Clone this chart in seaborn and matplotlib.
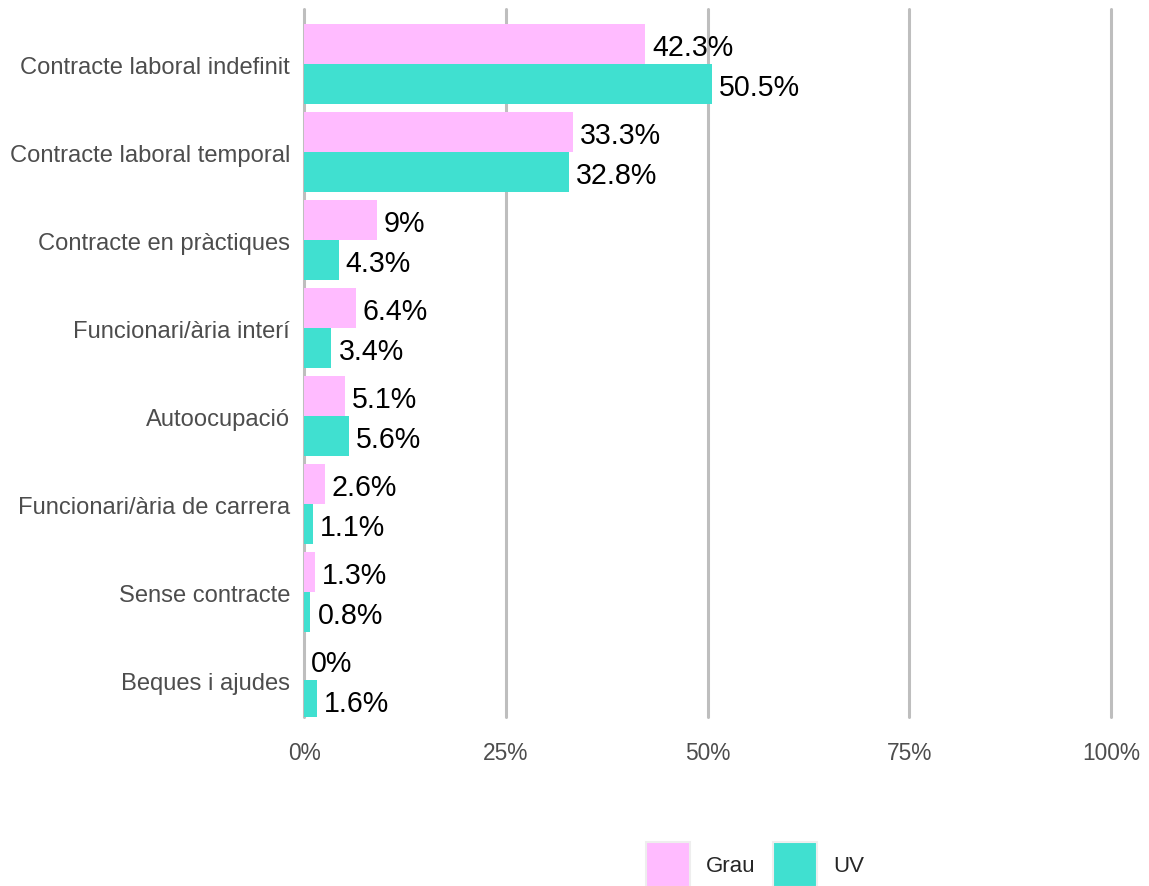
import matplotlib
matplotlib.use("Agg")
import matplotlib.pyplot as plt
import seaborn as sns
import pandas as pd
from matplotlib.patches import Patch

categories = [
    "Contracte laboral indefinit",
    "Contracte laboral temporal",
    "Contracte en pràctiques",
    "Funcionari/ària interí",
    "Autoocupació",
    "Funcionari/ària de carrera",
    "Sense contracte",
    "Beques i ajudes",
]
grau_values = [42.3, 33.3, 9, 6.4, 5.1, 2.6, 1.3, 0]
uv_values = [50.5, 32.8, 4.3, 3.4, 5.6, 1.1, 0.8, 1.6]
groups = ["Grau", "UV"]
colors = {"Grau": "#FFBBFF", "UV": "#40E0D0"}
x_ticks = [0, 25, 50, 75, 100]
x_tick_labels = ["0%", "25%", "50%", "75%", "100%"]

df = pd.DataFrame({
    "categoria": categories * 2,
    "grup": [groups[0]] * len(categories) + [groups[1]] * len(categories),
    "valor": grau_values + uv_values,
})

sns.set_theme(style="white")
plt.rcParams["font.family"] = ["Liberation Sans", "DejaVu Sans"]

fig = plt.figure(figsize=(11.49, 8.87), dpi=100)
ax = fig.add_axes([0.2646, 0.1905, 0.7024, 0.7982])

# vertical reference lines behind the bars
for t in x_ticks:
    ax.axvline(t, color="#bebebe", linewidth=2.2, zorder=0, clip_on=False)

sns.barplot(
    data=df, y="categoria", x="valor", hue="grup", order=categories,
    hue_order=groups, palette=colors, orient="h", width=0.9,
    dodge=True, legend=False, ax=ax, saturation=1, zorder=2,
    linewidth=0, edgecolor="none",
)

# value labels at the end of each bar
for container in ax.containers:
    for patch, v in zip(container.patches, container.datavalues):
        yc = patch.get_y() + patch.get_height() / 2
        ax.annotate(f"{v:g}%", xy=(patch.get_x() + patch.get_width(), yc),
                    xytext=(5, -2), textcoords="offset points",
                    ha="left", va="center", fontsize=20.6, color="black",
                    zorder=3, annotation_clip=False)

ax.set_xlim(0, 100)
ax.set_ylim(7.42, -0.625)
ax.set_xticks(x_ticks)
ax.set_xticklabels(x_tick_labels)
ax.set_xlabel("")
ax.set_ylabel("")
ax.tick_params(axis="y", labelsize=17.1, labelcolor="#4d4d4d", pad=10, length=0)
ax.tick_params(axis="x", labelsize=16.4, labelcolor="#4d4d4d", pad=17, length=0)
for s in ax.spines.values():
    s.set_visible(False)

handles = [Patch(facecolor=colors[g], edgecolor="#eeeeee", linewidth=1.5, label=g)
           for g in groups]
fig.legend(handles=handles, loc="center", bbox_to_anchor=(0.657, 0.024),
           ncol=2, frameon=False, fontsize=16, handlelength=2.0,
           handleheight=2.74, handletextpad=0.7, columnspacing=0.8)

fig.savefig("out.png", dpi=100)
